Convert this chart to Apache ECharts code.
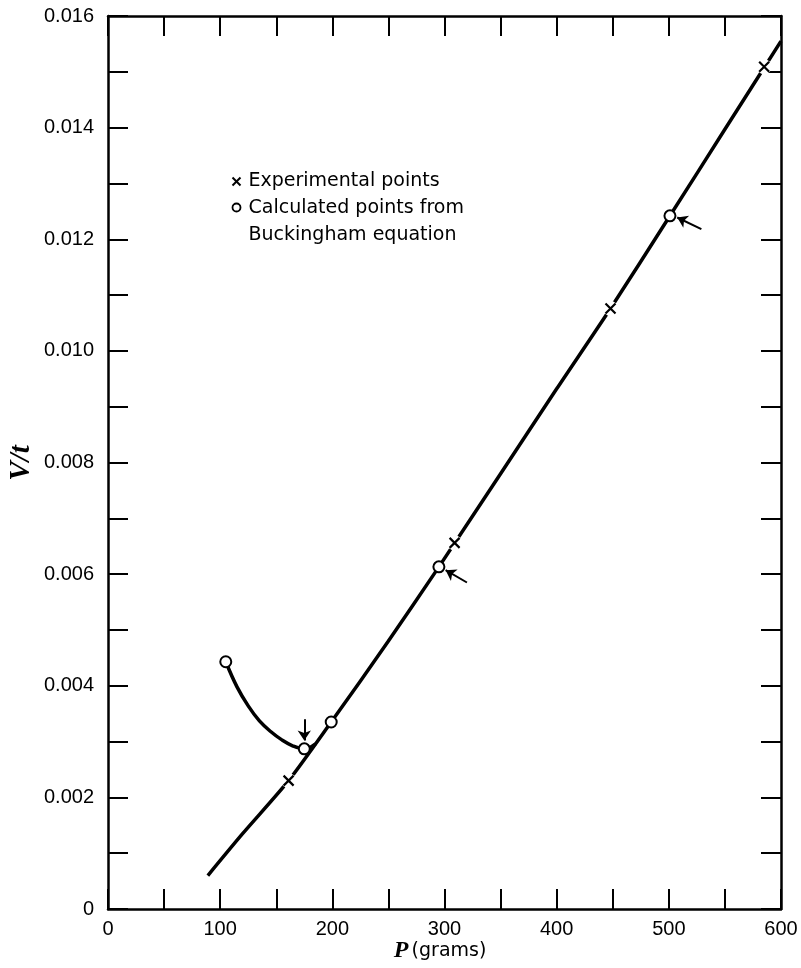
<!DOCTYPE html>
<html>
<head>
<meta charset="utf-8">
<style>
  html, body { margin: 0; padding: 0; background: #fff; }
  #chart { width: 801px; height: 968px; }
</style>
<script src="https://cdn.jsdelivr.net/npm/echarts@6/dist/echarts.min.js"></script>
</head>
<body>
<div id="chart"></div>
<script>
// Smooth line through the measured flow rates
const fitP = [89, 120, 161, 199, 250, 295, 350, 400, 448, 501, 550, 600];
const fitV = [0.0006, 0.00135, 0.0023, 0.00335, 0.0048, 0.00613, 0.00780, 0.00932, 0.01076, 0.01242, 0.01397, 0.01555];

// Low-pressure branch of the Buckingham equation
const curveP = [105, 115, 125, 135, 145, 155, 165, 175, 185];
const curveV = [0.00443, 0.00398, 0.00364, 0.00337, 0.00318, 0.00303, 0.00292, 0.00287, 0.00296];

// Experimental points (x)
const expP = [161, 309, 448, 585];
const expV = [0.0023, 0.00656, 0.01076, 0.01509];

// Points calculated from the Buckingham equation (o)
const calcP = [105, 175, 199, 295, 501];
const calcV = [0.00443, 0.00287, 0.00335, 0.00613, 0.01242];

// Pointer arrows: tail and head, in data units
const arrowFrom = [[175, 0.00340], [320, 0.00585], [529, 0.01218]];
const arrowTo   = [[175, 0.00302], [301, 0.00607], [507.5, 0.01239]];

// Axis tick labels
const xTickLabels = ['0', '100', '200', '300', '400', '500', '600'];
const yTickLabels = ['0', '0.002', '0.004', '0.006', '0.008', '0.010', '0.012', '0.014', '0.016'];

const zip = (a, b) => a.map((v, i) => [v, b[i]]);

const tickFont = 'Liberation Sans, Arial, sans-serif';
const ink = '#000';

function axisBase(extra) {
  return Object.assign({
    type: 'value',
    axisLine: { show: true, onZero: false, lineStyle: { color: ink, width: 2.5 } },
    axisTick: { show: true, inside: true, length: 20, lineStyle: { color: ink, width: 2 } },
    minorTick: { show: true, splitNumber: 2, length: 20, lineStyle: { color: ink, width: 2 } },
    splitLine: { show: false },
    minorSplitLine: { show: false }
  }, extra);
}

const chart = echarts.init(document.getElementById('chart'), null, { renderer: 'canvas' });

chart.setOption({
  animation: false,
  backgroundColor: '#fff',
  grid: { left: 108, right: 20, top: 16, bottom: 59 },
  xAxis: [
    axisBase({
      min: 0, max: 600, interval: 100, position: 'bottom',
      axisLabel: {
        color: ink, fontFamily: tickFont, fontSize: 20, margin: 10,
        formatter: v => xTickLabels[Math.round(v / 100)]
      }
    }),
    axisBase({
      min: 0, max: 600, interval: 100, position: 'top',
      axisLabel: { show: false }
    })
  ],
  yAxis: [
    axisBase({
      min: 0, max: 0.016, interval: 0.002, position: 'left',
      axisLabel: {
        color: ink, fontFamily: tickFont, fontSize: 20, margin: 14,
        formatter: v => yTickLabels[Math.round(v / 0.002)]
      }
    }),
    axisBase({
      min: 0, max: 0.016, interval: 0.002, position: 'right',
      axisLabel: { show: false }
    })
  ],
  series: [
    {
      name: 'fit',
      type: 'line',
      data: zip(fitP, fitV),
      smooth: 0.25,
      symbol: 'none',
      lineStyle: { color: ink, width: 3.5 },
      z: 2,
      markLine: {
        silent: true,
        symbol: ['none', 'arrow'],
        symbolSize: 10,
        label: { show: false },
        lineStyle: { color: ink, width: 2, type: 'solid' },
        itemStyle: { color: ink },
        data: arrowFrom.map((a, i) => [{ coord: a }, { coord: arrowTo[i] }])
      }
    },
    {
      name: 'Buckingham',
      type: 'line',
      data: zip(curveP, curveV),
      smooth: 0.4,
      symbol: 'none',
      lineStyle: { color: ink, width: 3.5 },
      z: 2
    },
    {
      // white gaps that break the line around each cross
      name: 'gap',
      type: 'scatter',
      data: zip(expP, expV),
      symbol: 'circle',
      symbolSize: 15,
      itemStyle: { color: '#fff', opacity: 1 },
      silent: true,
      z: 3
    },
    {
      name: 'Experimental points',
      type: 'scatter',
      data: zip(expP, expV),
      symbol: 'path://M0,0L10,10M10,0L0,10',
      symbolSize: 10,
      itemStyle: { color: 'transparent', borderColor: ink, borderWidth: 2.2, opacity: 1 },
      z: 4
    },
    {
      name: 'Calculated points from Buckingham equation',
      type: 'scatter',
      data: zip(calcP, calcV),
      symbol: 'circle',
      symbolSize: 11,
      itemStyle: { color: '#fff', borderColor: ink, borderWidth: 2, opacity: 1 },
      z: 4
    }
  ],
  graphic: [
    // key
    {
      type: 'group', left: 230, top: 172,
      children: [
        { type: 'line', shape: { x1: 1, y1: 9, x2: 9, y2: 17 }, style: { stroke: ink, lineWidth: 2 } },
        { type: 'line', shape: { x1: 9, y1: 9, x2: 1, y2: 17 }, style: { stroke: ink, lineWidth: 2 } },
        { type: 'circle', shape: { cx: 5, cy: 39, r: 4 }, style: { fill: '#fff', stroke: ink, lineWidth: 1.8 } },
        { type: 'text', x: 17, y: 13, style: { text: 'Experimental points', font: '19px DejaVu Sans', fill: ink, verticalAlign: 'middle' } },
        { type: 'text', x: 17, y: 40, style: { text: 'Calculated points from', font: '19px DejaVu Sans', fill: ink, verticalAlign: 'middle' } },
        { type: 'text', x: 17, y: 67, style: { text: 'Buckingham equation', font: '19px DejaVu Sans', fill: ink, verticalAlign: 'middle' } }
      ]
    },
    // x axis title
    {
      type: 'text', x: 440, y: 951,
      style: {
        text: '{p|P} {u|(grams)}',
        align: 'center', verticalAlign: 'middle',
        rich: {
          p: { font: 'italic bold 24px Liberation Serif', fill: ink },
          u: { font: '19px DejaVu Sans', fill: ink }
        }
      }
    },
    // y axis title
    {
      type: 'text', x: 22, y: 463, rotation: Math.PI / 2,
      style: {
        text: 'V/t',
        font: 'italic bold 29px Liberation Serif',
        fill: ink, align: 'center', verticalAlign: 'middle'
      }
    }
  ]
});
</script>
</body>
</html>
